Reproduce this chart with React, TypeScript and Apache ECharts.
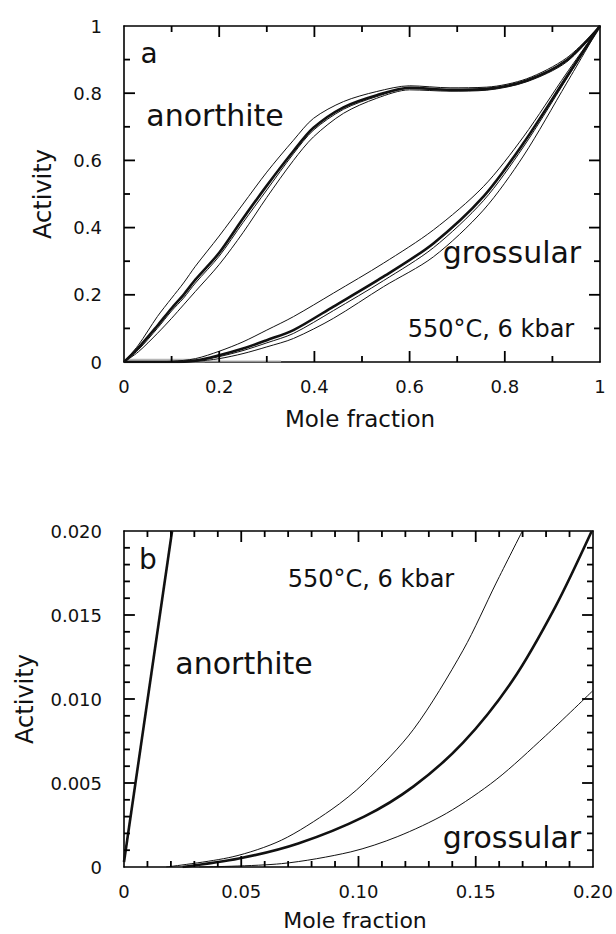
import React, { useEffect, useRef } from "react";
import * as echarts from "echarts";

// ---------- Panel a data (mole fraction, activity) ----------
const anorthiteUpperA = [[0,0],[0.03,0.05],[0.07,0.135],[0.1,0.19],[0.125,0.235],[0.15,0.285],[0.2,0.375],[0.25,0.47],[0.3,0.565],[0.356,0.66],[0.398,0.725],[0.461,0.775],[0.531,0.805],[0.6,0.822],[0.685,0.816],[0.762,0.818],[0.846,0.843],[0.93,0.905],[1,1]];
const anorthiteThickA = [[0,0],[0.03,0.042],[0.07,0.108],[0.1,0.16],[0.125,0.2],[0.15,0.245],[0.2,0.325],[0.25,0.427],[0.3,0.525],[0.356,0.628],[0.398,0.697],[0.461,0.758],[0.531,0.794],[0.6,0.816],[0.685,0.81],[0.762,0.813],[0.846,0.838],[0.93,0.898],[1,1]];
const anorthiteMidA = [[0,0],[0.03,0.036],[0.07,0.1],[0.1,0.152],[0.125,0.19],[0.15,0.235],[0.2,0.315],[0.25,0.415],[0.3,0.512],[0.356,0.62],[0.398,0.69],[0.461,0.752],[0.531,0.79],[0.6,0.814],[0.685,0.809],[0.762,0.812],[0.846,0.837],[0.93,0.897],[1,1]];
const anorthiteLowerA = [[0,0],[0.03,0.03],[0.07,0.085],[0.1,0.13],[0.125,0.17],[0.15,0.21],[0.2,0.29],[0.25,0.385],[0.3,0.49],[0.356,0.6],[0.398,0.67],[0.461,0.74],[0.531,0.785],[0.6,0.81],[0.685,0.806],[0.762,0.809],[0.846,0.834],[0.93,0.893],[1,1]];

const grossularUpperA = [[0,0],[0.1,0.002],[0.15,0.01],[0.2,0.032],[0.25,0.06],[0.3,0.095],[0.356,0.135],[0.44,0.205],[0.545,0.294],[0.65,0.393],[0.755,0.522],[0.839,0.67],[0.93,0.86],[1,1]];
const grossularThickA = [[0,0],[0.1,0],[0.15,0.004],[0.2,0.02],[0.25,0.04],[0.3,0.065],[0.356,0.095],[0.44,0.165],[0.545,0.254],[0.65,0.353],[0.755,0.492],[0.839,0.651],[0.93,0.849],[1,1]];
const grossularMidA = [[0,0],[0.1,0],[0.15,0.003],[0.2,0.016],[0.25,0.034],[0.3,0.057],[0.356,0.085],[0.44,0.153],[0.545,0.242],[0.65,0.34],[0.755,0.48],[0.839,0.64],[0.93,0.843],[1,1]];
const grossularLowerA = [[0,0],[0.1,0],[0.15,0.002],[0.2,0.01],[0.25,0.025],[0.3,0.045],[0.356,0.07],[0.44,0.13],[0.545,0.224],[0.65,0.313],[0.755,0.452],[0.839,0.613],[0.93,0.83],[1,1]];
const grayBaseA = [[0.005,0.004],[0.17,0.004]];
const grayTailA = [[0.17,0.002],[0.33,0.002]];

// ---------- Panel b data ----------
const anorthiteB = [[0,0.0003],[0.0205,0.02]];
const grossularUpperB = [[0.018,0],[0.0461,0.0006],[0.0672,0.0016],[0.0883,0.0034],[0.1024,0.005],[0.1235,0.0082],[0.1446,0.0129],[0.1587,0.0169],[0.1699,0.02]];
const grossularThickB = [[0.025,0],[0.049,0.0005],[0.0743,0.0014],[0.1024,0.003],[0.1235,0.0048],[0.1446,0.0074],[0.1657,0.0111],[0.184,0.0155],[0.1995,0.02]];
const grossularLowerB = [[0.0321,0],[0.0672,0.0002],[0.0967,0.0009],[0.1165,0.0018],[0.1376,0.0032],[0.1587,0.0052],[0.1797,0.0078],[0.2,0.0105]];

// ---------- Tick labels ----------
const xTicksA = [0, 0.2, 0.4, 0.6, 0.8, 1];
const xLabelsA = ["0", "0.2", "0.4", "0.6", "0.8", "1"];
const yTicksA = [0, 0.2, 0.4, 0.6, 0.8, 1];
const yLabelsA = ["0", "0.2", "0.4", "0.6", "0.8", "1"];
const xTicksB = [0, 0.05, 0.1, 0.15, 0.2];
const xLabelsB = ["0", "0.05", "0.10", "0.15", "0.20"];
const yTicksB = [0, 0.005, 0.01, 0.015, 0.02];
const yLabelsB = ["0", "0.005", "0.010", "0.015", "0.020"];

// ---------- Tick mark positions (drawn on all four sides) ----------
const majorTicksA = [0.2, 0.4, 0.6, 0.8];
const minorTicksA = [0.1, 0.3, 0.5, 0.7, 0.9];
const xMajorTicksB = [0.05, 0.1, 0.15];
const xMinorTicksB = [0.01, 0.02, 0.03, 0.04, 0.06, 0.07, 0.08, 0.09, 0.11, 0.12, 0.13, 0.14, 0.16, 0.17, 0.18, 0.19];
const yMajorTicksB = [0.005, 0.01, 0.015];
const yMinorTicksB = [0.001, 0.002, 0.003, 0.004, 0.006, 0.007, 0.008, 0.009, 0.011, 0.012, 0.013, 0.014, 0.016, 0.017, 0.018, 0.019];

const FONT = "DejaVu Sans";
const INK = "#111";
const TICK = "#000";
const MAJOR_LEN = 11;
const MINOR_LEN = 6;

function fmt(ticks: number[], labels: string[]) {
  return (v: number) => {
    for (let i = 0; i < ticks.length; i++) if (Math.abs(v - ticks[i]) < 1e-9) return labels[i];
    return "";
  };
}

function axis(pos: string, grid: number, max: number, interval: number, labels: null | ((v: number) => string), isY: boolean) {
  return {
    type: "value",
    gridIndex: grid,
    position: pos,
    min: 0,
    max,
    interval,
    splitLine: { show: false },
    axisLine: { show: true, onZero: false, lineStyle: { color: "#000", width: 1.6 } },
    axisTick: { show: false },
    minorTick: { show: false },
    axisLabel: labels
      ? {
          show: true,
          formatter: labels,
          fontFamily: FONT,
          fontSize: 18,
          color: INK,
          margin: isY ? 22 : 15,
          padding: isY ? [0, 0, 6, 0] : 0,
        }
      : { show: false },
  };
}

function line(data: any[], xi: number, yi: number, width: number, color = INK, opacity = 1, smooth: number = 0.3) {
  return {
    type: "line",
    xAxisIndex: xi,
    yAxisIndex: yi,
    data,
    symbol: "none",
    smooth,
    clip: true,
    lineStyle: { color, width, opacity },
    silent: true,
  };
}

// Each tick mark is its own two-point line series (a short segment in data units).
function tickSeries(xi: number, yi: number, xMax: number, yMax: number, wPx: number, hPx: number,
  xMaj: number[], xMin: number[], yMaj: number[], yMin: number[]) {
  const out: any[] = [];
  const dx = (px: number) => (px / wPx) * xMax;
  const dy = (px: number) => (px / hPx) * yMax;
  const addX = (v: number, len: number) => {
    out.push({ ...line([[v, 0], [v, dy(len)]], xi, yi, 1.8, TICK, 1, 0), z: 5 });
    out.push({ ...line([[v, yMax], [v, yMax - dy(len)]], xi, yi, 1.8, TICK, 1, 0), z: 5 });
  };
  const addY = (v: number, len: number) => {
    out.push({ ...line([[0, v], [dx(len), v]], xi, yi, 1.8, TICK, 1, 0), z: 5 });
    out.push({ ...line([[xMax, v], [xMax - dx(len), v]], xi, yi, 1.8, TICK, 1, 0), z: 5 });
  };
  xMaj.forEach((v) => addX(v, MAJOR_LEN));
  xMin.forEach((v) => addX(v, MINOR_LEN));
  yMaj.forEach((v) => addY(v, MAJOR_LEN));
  yMin.forEach((v) => addY(v, MINOR_LEN));
  return out;
}

function txt(text: string, x: number, y: number, size: number, rotation = 0) {
  return {
    type: "text",
    x,
    y,
    rotation,
    silent: true,
    style: { text, fill: INK, fontSize: size, fontFamily: FONT, align: "center", verticalAlign: "middle" },
  };
}

export default function App() {
  const ref = useRef<HTMLDivElement>(null);
  useEffect(() => {
    if (!ref.current) return;
    const chart = echarts.init(ref.current, null, { renderer: "svg" });
    const option = {
      animation: false,
      backgroundColor: "#fff",
      grid: [
        { left: 124, top: 26, width: 476, height: 336 },
        { left: 124, top: 531, width: 474, height: 336 },
      ],
      xAxis: [
        axis("bottom", 0, 1, 0.2, fmt(xTicksA, xLabelsA), false),
        axis("top", 0, 1, 0.2, null, false),
        axis("bottom", 1, 0.2, 0.05, fmt(xTicksB, xLabelsB), false),
        axis("top", 1, 0.2, 0.05, null, false),
      ],
      yAxis: [
        axis("left", 0, 1, 0.2, fmt(yTicksA, yLabelsA), true),
        axis("right", 0, 1, 0.2, null, true),
        axis("left", 1, 0.02, 0.005, fmt(yTicksB, yLabelsB), true),
        axis("right", 1, 0.02, 0.005, null, true),
      ],
      series: [
        ...tickSeries(0, 0, 1, 1, 476, 336, majorTicksA, minorTicksA, majorTicksA, minorTicksA),
        ...tickSeries(2, 2, 0.2, 0.02, 474, 336, xMajorTicksB, xMinorTicksB, yMajorTicksB, yMinorTicksB),
        line(grayBaseA, 0, 0, 4, "#999", 0.7, 0),
        line(grayTailA, 0, 0, 2, "#bbb", 0.7, 0),
        line(anorthiteUpperA, 0, 0, 1),
        line(anorthiteMidA, 0, 0, 1),
        line(anorthiteThickA, 0, 0, 2.6),
        line(anorthiteLowerA, 0, 0, 1),
        line(grossularUpperA, 0, 0, 1),
        line(grossularMidA, 0, 0, 1),
        line(grossularThickA, 0, 0, 2.6),
        line(grossularLowerA, 0, 0, 1),
        line(anorthiteB, 2, 2, 2.6, INK, 1, 0),
        line(grossularUpperB, 2, 2, 1),
        line(grossularThickB, 2, 2, 2.6),
        line(grossularLowerB, 2, 2, 1),
      ],
      graphic: [
        txt("a", 149, 53, 28),
        txt("anorthite", 215, 115, 30),
        txt("grossular", 512, 252, 30),
        txt("550°C, 6 kbar", 491, 329, 24),
        txt("Activity", 43, 194, 24, Math.PI / 2),
        txt("Mole fraction", 360, 419, 23),
        txt("b", 148, 559, 28),
        txt("550°C, 6 kbar", 371, 579, 24),
        txt("anorthite", 244, 663, 30),
        txt("grossular", 512, 837, 30),
        txt("Activity", 25, 699, 24, Math.PI / 2),
        txt("Mole fraction", 355, 920, 22),
      ],
    };
    chart.setOption(option as any);
    return () => chart.dispose();
  }, []);
  return (
    <div
      ref={ref}
      style={{ position: "fixed", left: 0, top: 0, width: 616, height: 934, background: "#fff" }}
    />
  );
}
